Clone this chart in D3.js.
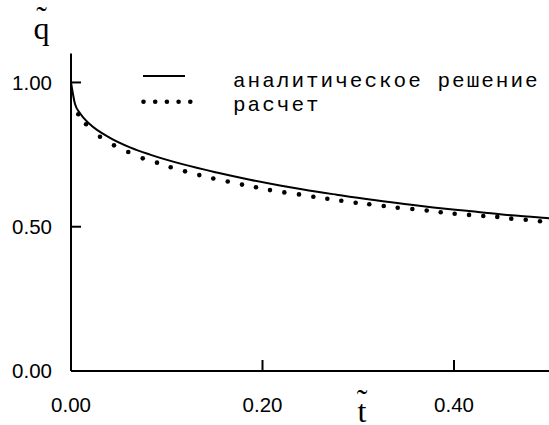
<!DOCTYPE html>
<html>
<head>
<meta charset="utf-8">
<script src="https://cdn.jsdelivr.net/npm/d3@7"></script>
<style>
  body { margin: 0; background: #fff; }
  svg { display: block; }
</style>
</head>
<body>
<div id="chart"></div>
<script>
// q~(t~): analytic solution vs computed points

// analytic solution (solid line)
const solidT = [0, 0.0042, 0.0094, 0.0198, 0.0407, 0.0616, 0.0825, 0.1173, 0.1522, 0.1869,
  0.2182, 0.2426, 0.2775, 0.3123, 0.3506, 0.3784, 0.4133, 0.4480, 0.4968, 0.5];
const solidQ = [1.0, 0.925, 0.893, 0.855, 0.808, 0.775, 0.750, 0.716, 0.688, 0.663,
  0.643, 0.629, 0.611, 0.594, 0.578, 0.567, 0.555, 0.543, 0.530, 0.529];

// computed points (dots)
const calcT = [0.0076, 0.0157, 0.0303, 0.0449, 0.0598, 0.0749, 0.0898, 0.1041, 0.1191, 0.1340,
  0.1486, 0.1637, 0.1786, 0.1932, 0.2078, 0.2228, 0.2381, 0.2531, 0.2677, 0.2823,
  0.2973, 0.3115, 0.3266, 0.3412, 0.3565, 0.3715, 0.3861, 0.4007, 0.4157, 0.4306,
  0.4452, 0.4598, 0.4749, 0.4898];
const calcQ = [0.890, 0.855, 0.812, 0.782, 0.759, 0.737, 0.722, 0.706, 0.692, 0.679,
  0.667, 0.657, 0.646, 0.637, 0.627, 0.619, 0.612, 0.604, 0.597, 0.590,
  0.583, 0.578, 0.572, 0.566, 0.5615, 0.556, 0.550, 0.545, 0.541, 0.537,
  0.534, 0.528, 0.524, 0.519];

const xTicks = [0, 0.2, 0.4];
const yTicks = [0, 0.5, 1.0];
const legendLabels = ["аналитическое решение", "расчет"];

const width = 549, height = 425;
const svg = d3.select('#chart').append('svg')
  .attr('width', width)
  .attr('height', height);

const x = d3.scaleLinear().domain([0, 0.5]).range([71, 549.75]);
const y = d3.scaleLinear().domain([0, 1.1]).range([371, 53.6]);

const numFont = 'Arial, "Liberation Sans", sans-serif';
const serif = '"Times New Roman", "Liberation Serif", serif';

// axes lines
svg.append('line')
  .attr('x1', x(0)).attr('x2', x(0))
  .attr('y1', y(1.1)).attr('y2', y(0))
  .attr('stroke', '#000').attr('stroke-width', 2);
svg.append('line')
  .attr('x1', x(0)).attr('x2', width)
  .attr('y1', y(0)).attr('y2', y(0))
  .attr('stroke', '#000').attr('stroke-width', 2);

// y ticks (inward, to the right)
svg.selectAll('.ytick').data(yTicks.filter(d => d > 0)).enter()
  .append('line')
  .attr('x1', x(0)).attr('x2', x(0) + 10)
  .attr('y1', d => y(d)).attr('y2', d => y(d))
  .attr('stroke', '#000').attr('stroke-width', 2);

svg.selectAll('.ylab').data(yTicks).enter()
  .append('text')
  .attr('x', 52)
  .attr('y', d => y(d))
  .attr('dy', '0.35em')
  .attr('text-anchor', 'end')
  .attr('font-family', numFont)
  .attr('font-size', 20.5)
  .text(d => d3.format('.2f')(d));

// x ticks (inward, upward)
svg.selectAll('.xtick').data(xTicks.filter(d => d > 0)).enter()
  .append('line')
  .attr('x1', d => x(d)).attr('x2', d => x(d))
  .attr('y1', y(0)).attr('y2', y(0) - 11)
  .attr('stroke', '#000').attr('stroke-width', 2);

svg.selectAll('.xlab').data(xTicks).enter()
  .append('text')
  .attr('x', d => x(d))
  .attr('y', 405)
  .attr('dy', '0.35em')
  .attr('text-anchor', 'middle')
  .attr('font-family', numFont)
  .attr('font-size', 20.5)
  .text(d => d3.format('.2f')(d));

// axis titles: q~ and t~ (tilde placed above the letter, one text element)
function tildeLabel(cx, base, tildeBase, letter) {
  const t = svg.append('text')
    .attr('text-anchor', 'middle')
    .attr('font-family', serif)
    .attr('font-size', 32);
  t.append('tspan').attr('x', cx).attr('y', tildeBase).text('\u02DC');
  t.append('tspan').attr('x', cx).attr('y', base).text(letter);
}
tildeLabel(41.5, 39, 28, 'q');
tildeLabel(362, 422, 411, 't');

// analytic curve
const pts = solidT.map((t, i) => [t, solidQ[i]]);
const line = d3.line()
  .x(d => x(d[0]))
  .y(d => y(d[1]))
  .curve(d3.curveMonotoneX);
svg.append('path')
  .datum(pts)
  .attr('d', line)
  .attr('fill', 'none')
  .attr('stroke', '#000')
  .attr('stroke-width', 2);

// computed dots
svg.selectAll('.dot').data(calcT.map((t, i) => [t, calcQ[i]])).enter()
  .append('circle')
  .attr('cx', d => x(d[0]))
  .attr('cy', d => y(d[1]))
  .attr('r', 2.3)
  .attr('fill', '#000');

// legend
const legend = svg.append('g');
legend.append('line')
  .attr('x1', 143).attr('x2', 185)
  .attr('y1', 76).attr('y2', 76)
  .attr('stroke', '#000').attr('stroke-width', 2);
d3.range(5).forEach(i => {
  legend.append('circle')
    .attr('cx', 143.5 + i * 11.7)
    .attr('cy', 101.7)
    .attr('r', 2.3)
    .attr('fill', '#000');
});
legend.selectAll('text').data(legendLabels).enter()
  .append('text')
  .attr('x', 233)
  .attr('y', (d, i) => 87 + i * 24)
  .attr('font-family', '"Courier New", "Liberation Mono", monospace')
  .attr('font-size', 21)
  .attr('letter-spacing', 2)
  .text(d => d);
</script>
</body>
</html>
